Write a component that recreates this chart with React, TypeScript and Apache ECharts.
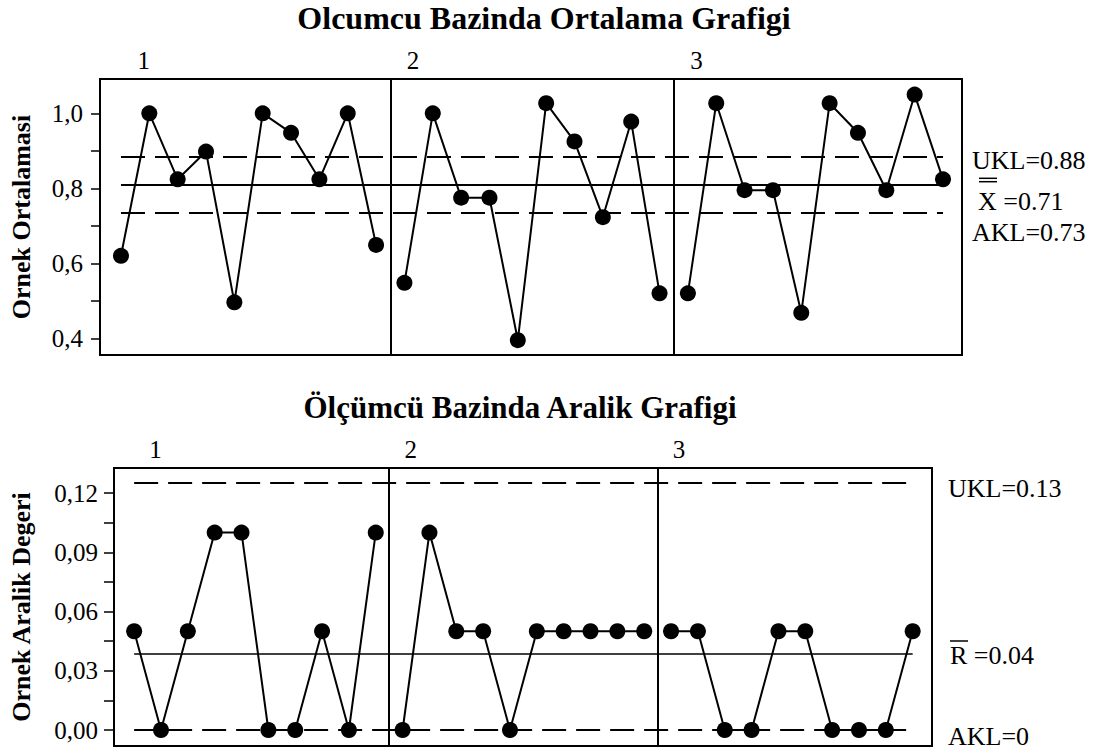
import React, { useEffect, useRef } from "react";
import * as echarts from "echarts";

// ---- data ----
const groupLabels = ["1", "2", "3"];
const groupLabelPos = [0.8, 10.3, 20.3];
const dividerPos = [9.5, 19.5];

const meanGroup1 = [0.62, 1.0, 0.824, 0.898, 0.496, 1.0, 0.948, 0.824, 1.0, 0.649];
const meanGroup2 = [0.548, 1.0, 0.775, 0.775, 0.395, 1.027, 0.925, 0.723, 0.978, 0.52];
const meanGroup3 = [0.52, 1.027, 0.795, 0.795, 0.468, 1.027, 0.948, 0.795, 1.05, 0.824];

const rangeGroup1 = [0.05, 0, 0.05, 0.1, 0.1, 0, 0, 0.05, 0, 0.1];
const rangeGroup2 = [0, 0.1, 0.05, 0.05, 0, 0.05, 0.05, 0.05, 0.05, 0.05];
const rangeGroup3 = [0.05, 0.05, 0, 0, 0.05, 0.05, 0, 0, 0, 0.05];

const meanUKL = 0.883;
const meanCenter = 0.81;
const meanAKL = 0.736;
const rangeUKL = 0.1254;
const rangeCenter = 0.0384;
const rangeAKL = 0;

const meanTicks = [0.4, 0.5, 0.6, 0.7, 0.8, 0.9, 1.0];
const meanTickLabels = [0.4, 0.6, 0.8, 1.0];
const rangeTicks = [0, 0.015, 0.03, 0.045, 0.06, 0.075, 0.09, 0.105, 0.12];
const rangeTickLabels = [0, 0.03, 0.06, 0.09, 0.12];

const topTitle = "Olcumcu Bazinda Ortalama Grafigi";
const bottomTitle = "Ölçümcü Bazinda Aralik Grafigi";
const topYName = "Ornek Ortalamasi";
const bottomYName = "Ornek Aralik Degeri";

const FONT = "'Liberation Serif', 'Times New Roman', serif";

function buildOption() {
  const n = meanGroup1.length;
  const total = n * 3;

  const dataSeries = (groups: number[][], xi: number, yi: number) =>
    groups.map((g, gi) => ({
      type: "line",
      xAxisIndex: xi,
      yAxisIndex: yi,
      data: g.map((v, i) => [gi * n + i, v]),
      symbol: "circle",
      symbolSize: 16,
      itemStyle: { color: "#000" },
      lineStyle: { color: "#000", width: 2 },
      z: 5,
    }));

  const limitSeries = (xi: number, yi: number, ukl: number, c: number, akl: number, cw: number) => ({
    type: "line",
    xAxisIndex: xi,
    yAxisIndex: yi,
    data: [],
    markLine: {
      silent: true,
      symbol: ["none", "none"],
      label: { show: false },
      data: [
        [
          { coord: [0, ukl], lineStyle: { type: [24, 10], width: 2, color: "#000" } },
          { coord: [total - 1, ukl] },
        ],
        [
          { coord: [0, c], lineStyle: { type: "solid", width: cw, color: "#000" } },
          { coord: [total - 1, c] },
        ],
        [
          { coord: [0, akl], lineStyle: { type: [24, 10], width: 2, color: "#000" } },
          { coord: [total - 1, akl] },
        ],
        ...dividerPos.map((d) => ({
          xAxis: d,
          lineStyle: { type: "solid", width: 2, color: "#000" },
        })),
      ],
    },
  });

  const hiddenX = (gi: number, min: number, max: number) => ({
    type: "value",
    gridIndex: gi,
    min,
    max,
    axisLine: { show: false, onZero: false },
    axisTick: { show: false },
    axisLabel: { show: false },
    splitLine: { show: false },
  });

  const groupX = (gi: number, min: number, max: number) => ({
    type: "value",
    gridIndex: gi,
    position: "top",
    min,
    max,
    axisLine: { show: false, onZero: false },
    axisTick: { show: false },
    splitLine: { show: false },
    axisLabel: {
      customValues: groupLabelPos,
      margin: 6,
      color: "#000",
      fontFamily: FONT,
      fontSize: 25,
      formatter: (v: number) => {
        const idx = groupLabelPos.findIndex((p) => Math.abs(p - v) < 1e-6);
        return idx >= 0 ? groupLabels[idx] : "";
      },
    },
  });

  const yAx = (
    gi: number,
    min: number,
    max: number,
    ticks: number[],
    labels: number[],
    digits: number,
    name: string,
    nameGap: number,
    tickLen: number,
    labelMargin: number
  ) => ({
    type: "value",
    gridIndex: gi,
    min,
    max,
    name,
    nameLocation: "middle",
    nameGap,
    nameTextStyle: { fontFamily: FONT, fontWeight: "bold", fontSize: 26, color: "#000" },
    axisLine: { show: true, onZero: false, lineStyle: { color: "#000", width: 2 } },
    axisTick: { show: true, customValues: ticks, length: tickLen, lineStyle: { color: "#000", width: 1.5 } },
    splitLine: { show: false },
    axisLabel: {
      customValues: labels,
      margin: labelMargin,
      color: "#000",
      fontFamily: FONT,
      fontSize: 25,
      formatter: (v: number) => v.toFixed(digits).replace(".", ","),
    },
  });

  const txt = (x: number, y: number, text: string, size = 26, extra: any = {}) => ({
    type: "text",
    x,
    y,
    style: {
      text,
      fill: "#000",
      font: `${size}px ${FONT}`,
      textVerticalAlign: "middle",
      ...extra,
    },
  });

  const bar = (x1: number, x2: number, y: number) => ({
    type: "line",
    shape: { x1, y1: y, x2, y2: y },
    style: { stroke: "#000", lineWidth: 1.5 },
  });

  return {
    animation: false,
    backgroundColor: "#fff",
    grid: [
      { left: 98, top: 79, width: 864, height: 276, show: true, borderColor: "#000", borderWidth: 2, backgroundColor: "transparent" },
      { left: 112, top: 468, width: 820, height: 278, show: true, borderColor: "#000", borderWidth: 2, backgroundColor: "transparent" },
    ],
    xAxis: [
      hiddenX(0, -0.74, 29.67),
      groupX(0, -0.74, 29.67),
      hiddenX(1, -0.75, 29.72),
      groupX(1, -0.75, 29.72),
    ],
    yAxis: [
      yAx(0, 0.3555, 1.0915, meanTicks, meanTickLabels, 1, topYName, 66, 9, 17),
      yAx(1, -0.0081, 0.1327, rangeTicks, rangeTickLabels, 2, bottomYName, 80, 10, 16),
    ],
    series: [
      ...dataSeries([meanGroup1, meanGroup2, meanGroup3], 0, 0),
      limitSeries(0, 0, meanUKL, meanCenter, meanAKL, 2),
      ...dataSeries([rangeGroup1, rangeGroup2, rangeGroup3], 2, 1),
      limitSeries(2, 1, rangeUKL, rangeCenter, rangeAKL, 1.5),
    ],
    graphic: [
      txt(544, 18, topTitle, 32, { font: `bold 32px ${FONT}`, textAlign: "center" }),
      txt(520, 407, bottomTitle, 31, { font: `bold 31px ${FONT}`, textAlign: "center" }),
      txt(972, 160, "UKL=0.88"),
      txt(978, 201, "X =0.71"),
      bar(979, 997, 178.3),
      bar(979, 997, 181.7),
      txt(972, 232, "AKL=0.73"),
      txt(948, 488, "UKL=0.13"),
      txt(950, 655, "R =0.04"),
      bar(950, 968, 641),
      txt(948, 736, "AKL=0"),
    ],
  };
}

export default function App() {
  const ref = useRef<HTMLDivElement>(null);
  useEffect(() => {
    document.body.style.margin = "0";
    if (!ref.current) return;
    const chart = echarts.init(ref.current, undefined, { renderer: "svg" });
    chart.setOption(buildOption() as any);
    return () => chart.dispose();
  }, []);
  return <div ref={ref} style={{ width: 1101, height: 751, position: "absolute", left: 0, top: 0 }} />;
}
